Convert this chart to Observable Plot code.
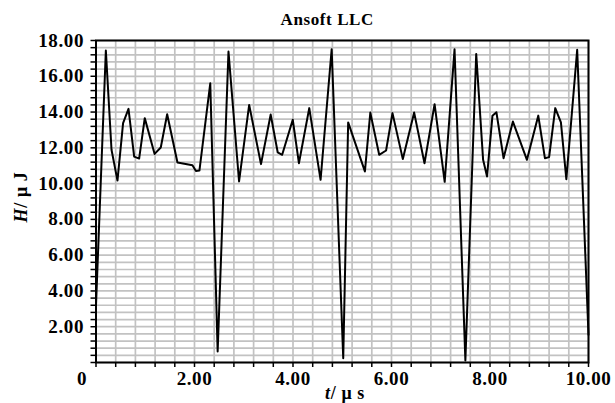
<!DOCTYPE html>
<html>
<head>
<meta charset="utf-8">
<script src="https://cdn.jsdelivr.net/npm/d3@7"></script>
<script src="https://cdn.jsdelivr.net/npm/@observablehq/plot@0.6"></script>
<style>
  html, body { margin: 0; padding: 0; background: #fff; }
  #chart { width: 615px; height: 403px; }
</style>
</head>
<body>
<div id="chart"></div>
<script>
// Time (µs) and energy H (µJ)
const tValues = [0, 0.2, 0.315, 0.436, 0.55, 0.66, 0.775, 0.876, 0.99, 1.19, 1.315, 1.445, 1.654, 1.958, 2.03, 2.1, 2.32, 2.47, 2.69, 2.905, 3.11, 3.35, 3.547, 3.69, 3.78, 3.995, 4.12, 4.33, 4.56, 4.785, 5.02, 5.12, 5.46, 5.57, 5.75, 5.89, 6.02, 6.23, 6.46, 6.67, 6.875, 7.08, 7.28, 7.5, 7.72, 7.86, 7.94, 8.05, 8.13, 8.275, 8.465, 8.75, 8.98, 9.115, 9.2, 9.325, 9.44, 9.55, 9.77, 10.0];
const hValues = [3.2, 17.44, 11.89, 10.17, 13.38, 14.18, 11.51, 11.4, 13.66, 11.66, 12.02, 13.88, 11.18, 11.03, 10.71, 10.73, 15.61, 0.61, 17.38, 10.12, 14.4, 11.09, 13.86, 11.74, 11.61, 13.57, 11.14, 14.22, 10.21, 17.51, 0.24, 13.42, 10.68, 13.97, 11.61, 11.85, 13.94, 11.37, 13.97, 11.14, 14.44, 10.1, 17.51, 0.11, 17.25, 11.33, 10.4, 13.8, 13.99, 11.42, 13.47, 11.33, 13.8, 11.42, 11.48, 14.22, 13.42, 10.25, 17.48, 1.55];

const xLabels = [2, 4, 6, 8, 10];
const yLabels = [2, 4, 6, 8, 10, 12, 14, 16, 18];
const originLabel = ["0"];
const title = "Ansoft LLC";
const minorStep = 0.4;

const data = tValues.map((t, i) => ({t, H: hValues[i]}));
const xMinor = d3.range(Math.round(10 / minorStep) + 1).map(i => +(i * minorStep).toFixed(2));
const yMinor = d3.range(Math.round(18 / minorStep) + 1).map(i => +(i * minorStep).toFixed(2));
const isLabel = (arr, d) => arr.some(v => Math.abs(v - d) < 1e-6);

const font = "'Liberation Serif', 'DejaVu Serif', serif";

const chart = Plot.plot({
  width: 615,
  height: 403,
  marginLeft: 95.5,
  marginRight: 27,
  marginTop: 40,
  marginBottom: 41,
  x: {domain: [0, 10]},
  y: {domain: [0, 18]},
  style: {fontFamily: font, fontWeight: "bold", fontSize: "19px", color: "black", background: "white", overflow: "visible", letterSpacing: "0.6px"},
  marks: [
    Plot.ruleX(xMinor, {stroke: "#c2c2c2", strokeWidth: 1.7}),
    Plot.ruleY(yMinor, {stroke: "#c2c2c2", strokeWidth: 1.7}),
    Plot.axisX({ticks: xMinor, tickSize: 5, tickPadding: 4, strokeWidth: 1.5,
      tickFormat: d => isLabel(xLabels, d) ? d.toFixed(2) : "", label: null}),
    Plot.axisY({ticks: yMinor, tickSize: 5, tickPadding: 7, strokeWidth: 1.5,
      tickFormat: d => isLabel(yLabels, d) ? d.toFixed(2) : "", label: null}),
    Plot.text(originLabel, {x: 0, frameAnchor: "bottom", lineAnchor: "top", dy: 9, dx: -14, fontSize: 19}),
    Plot.frame({stroke: "black", strokeWidth: 2}),
    Plot.line(data, {x: "t", y: "H", stroke: "black", strokeWidth: 2}),
    Plot.text([title], {frameAnchor: "top", lineAnchor: "bottom", dy: -16, dx: -15, fontSize: 17})
  ]
});

document.getElementById("chart").appendChild(chart);

// Axis titles with italic variable names
const svg = d3.select(chart);
const xl = svg.append("text")
  .attr("x", 345).attr("y", 399)
  .attr("text-anchor", "middle")
  .attr("font-family", font).attr("font-weight", "bold").attr("font-size", 18)
  .attr("fill", "black");
xl.append("tspan").attr("font-style", "italic").text("t");
xl.append("tspan").text("/ μ s");

const yl = svg.append("text")
  .attr("transform", "translate(27,197) rotate(-90)")
  .attr("text-anchor", "middle")
  .attr("font-family", font).attr("font-weight", "bold").attr("font-size", 18)
  .attr("fill", "black");
yl.append("tspan").attr("font-style", "italic").text("H");
yl.append("tspan").text("/ μ J");
</script>
</body>
</html>
